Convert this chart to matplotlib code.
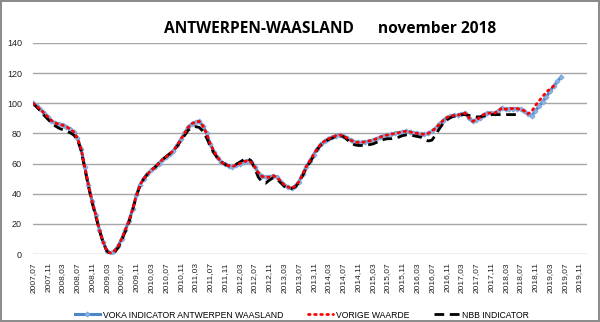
import matplotlib
matplotlib.use("Agg")
import matplotlib.pyplot as plt
from matplotlib.lines import Line2D

plt.rcParams['font.family'] = ['Liberation Sans', 'DejaVu Sans']

# monthly values starting 2007,07
voka = [100, 98, 96, 93.5, 91, 88.5, 87, 86, 85.5, 84.5, 83, 81, 77, 70, 58, 46, 35, 26, 16, 8,
        2, 0.5, 2, 5, 10, 16, 22, 30, 39, 46, 50, 53, 55.5, 57.5, 60, 62.5, 64.5, 66.5, 68.5, 72,
        76, 80, 84, 86.5, 87.5, 88, 85, 80, 73, 68, 64, 61, 59.5, 58.5, 58, 59, 60, 61, 62, 61,
        58, 54, 51.5, 51, 51, 52, 51, 48.5, 46, 44.5, 43.5, 45, 48, 53, 58, 62, 66, 70, 73, 75,
        76.5, 77.5, 78.5, 79, 78.5, 77, 75.5, 74.5, 74, 74, 74.5, 75, 75.5, 76.5, 77.5, 78.5, 79, 79.5, 80, 80.5,
        81, 81.5, 81, 80.5, 80, 79.5, 79.5, 80, 81.5, 83.5, 86, 88.5, 90.5, 91.5, 92, 92, 93, 93.5, 90.5, 88,
        89, 90.5, 92.5, 93.5, 93.5, 93.5, 95, 97, 96, 96.5, 96.5, 96.5, 96, 95, 93, 91.5, 95, 98, 101, 104.5,
        108, 111.5, 114.5, 117.5]

vorige = voka[:134] + [93, 94.5, 98.5, 101.5, 104.5, 107.5, 109.5, 111.5]

nbb = [100, 97.5, 95, 92, 89.5, 87, 85, 83.5, 82.5, 81.5, 80.5, 79, 76, 69, 57, 45, 34, 25, 15.5, 7.5,
       2, 0, 1, 4, 9, 15, 21.5, 29.5, 38.5, 45.5, 50, 53, 55.5, 57.5, 60, 62.5, 64.5, 66.5, 68.5, 71.5,
       75, 78.5, 82, 84, 84.5, 84, 81.5, 77, 71.5, 67, 63.5, 61, 59.5, 58.5, 58.5, 59.5, 61, 62.5, 63.5, 62,
       57, 51, 48, 47, 49, 50.5, 50, 47.5, 45, 44, 43.5, 44.5, 47.5, 52, 57, 61, 65, 69.5, 72.5, 74.5,
       76, 77, 78, 78.5, 78, 76, 74, 72.5, 72, 72, 72, 72.5, 73, 74, 75, 76, 76.5, 76.5, 77, 77.5,
       78.5, 79, 79, 78.5, 78, 77.5, 76, 75, 75.5, 79, 83, 86.5, 89, 90.5, 91.5, 92, 92.5, 92.5, 92, 91.5,
       91, 91, 91.5, 92, 92.5, 92.5, 92.5, 92.5, 92.5, 92.5, 92.5, 92.5, 92.5]

start_year, start_month = 2007, 7
n_months = 150
tick_step = 4
y_ticks = [0, 20, 40, 60, 80, 100, 120, 140]

title = "ANTWERPEN-WAASLAND      november 2018"
names = ["VOKA INDICATOR ANTWERPEN WAASLAND", "VORIGE WAARDE", "NBB INDICATOR"]


def month_label(i):
    y = start_year + (start_month - 1 + i) // 12
    m = (start_month - 1 + i) % 12 + 1
    return f"{y},{m:02d}"


fig = plt.figure(figsize=(6.0, 3.22), dpi=100)
fig.patch.set_edgecolor('#8c8c8c')
fig.patch.set_linewidth(1.5)
ax = fig.add_axes([33 / 600, 1 - 254 / 322, (587 - 33) / 600, (254 - 43) / 322])

blue_c = '#4a86c8'
mk = dict(marker='D', ms=2.6, mfc='#8db3e2', mec='#7aa6dc', mew=0.6)
ax.plot(range(len(voka)), voka, color=blue_c, lw=2.2, zorder=3, **mk)
ax.plot(range(len(nbb)), nbb, color='black', lw=2, dashes=(3.5, 2), zorder=4)
ax.plot(range(len(vorige)), vorige, color='red', lw=2, linestyle=(0, (0.6, 1.6)),
        dash_capstyle='round', zorder=5)

ax.set_xlim(0, n_months)
ax.set_ylim(0, 140)
ax.set_yticks(y_ticks)
ax.set_yticklabels([str(v) for v in y_ticks], fontsize=6.5, color='#222222')
xt = list(range(0, n_months, tick_step))
ax.set_xticks(xt)
ax.set_xticklabels([month_label(i) for i in xt], rotation=90, fontsize=6.0, color='#222222')
ax.tick_params(axis='both', length=0)
ax.tick_params(axis='y', pad=8)
ax.tick_params(axis='x', pad=6)
ax.grid(axis='y', color='#a6a6a6', lw=1)
ax.set_axisbelow(True)
for s in ax.spines.values():
    s.set_visible(False)

fig.text(330 / 600, 1 - 29 / 322, title, ha='center', va='center', fontsize=11.2,
         fontweight='bold', family=['Open Sans', 'DejaVu Sans'])

handles = [
    Line2D([], [], color=blue_c, lw=2.2, markevery=[1], **mk),
    Line2D([], [], color='red', lw=2, linestyle=(0, (0.6, 1.6)), dash_capstyle='round'),
    Line2D([], [], color='black', lw=2, dashes=(3.5, 2)),
]
fig.legend(handles, names, loc='center', bbox_to_anchor=(302 / 600, 1 - 315 / 322), ncol=3,
           frameon=False, fontsize=6.2, handlelength=2.9, handletextpad=0.4, columnspacing=2.8)

fig.savefig('out.png', dpi=100)
